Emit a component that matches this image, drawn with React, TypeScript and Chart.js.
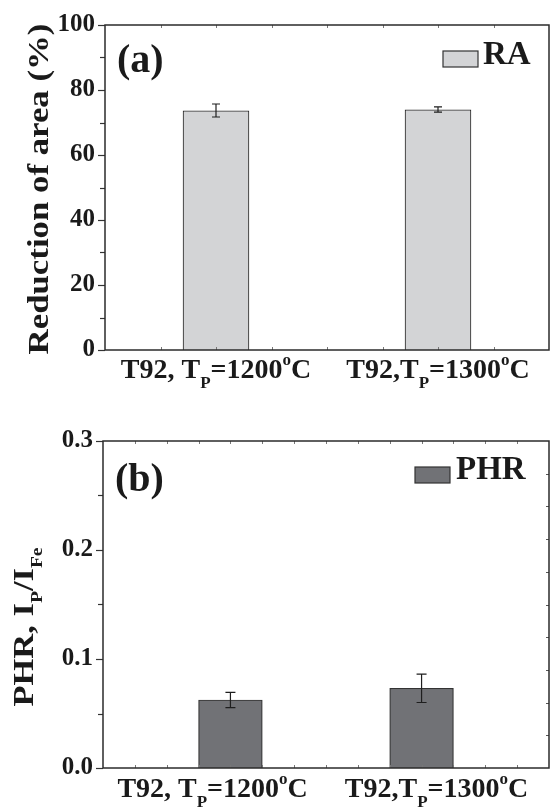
import React, { useEffect, useRef } from 'react';
import { Chart, registerables } from 'chart.js';

Chart.register(...registerables);

// ---- data ----
const alloyParts = ['T92, T', 'T92,T'];
const peakTemps = ['1200', '1300'];

const raX = [2, 6];
const raValues = [73.7, 74.0];
const raErrors = [2.0, 0.8];
const raLabelX = [2, 6];
const raTickValues = [0, 20, 40, 60, 80, 100];

const phrX = [4, 10];
const phrValues = [0.0624, 0.0731];
const phrErrors = [0.007, 0.013];
const phrLabelX = [3.44, 10.47];
const phrTickValues = [0.0, 0.1, 0.2, 0.3];

const FONT = "'Liberation Serif', 'Times New Roman', serif";

type Seg = { t: string; size: number; dy: number };

function drawRich(ctx: CanvasRenderingContext2D, segs: Seg[], x: number, y: number) {
  let total = 0;
  const widths: number[] = [];
  for (const s of segs) {
    ctx.font = `bold ${s.size}px ${FONT}`;
    const w = ctx.measureText(s.t).width;
    widths.push(w);
    total += w;
  }
  let cx = x - total / 2;
  ctx.textAlign = 'left';
  ctx.textBaseline = 'alphabetic';
  segs.forEach((s, i) => {
    ctx.font = `bold ${s.size}px ${FONT}`;
    ctx.fillText(s.t, cx, y + s.dy);
    cx += widths[i];
  });
}

function categorySegs(i: number): Seg[] {
  return [
    { t: alloyParts[i], size: 28, dy: 0 },
    { t: 'P', size: 17, dy: 10 },
    { t: '=' + peakTemps[i], size: 28, dy: 0 },
    { t: 'o', size: 17, dy: -13 },
    { t: 'C', size: 28, dy: 0 },
  ];
}

type PanelCfg = {
  key: string;
  h: number;
  padTop: number;
  axisW: number;
  plotBottom: number;
  xMax: number;
  xStep: number;
  xMinor: number;
  barPct: number;
  xs: number[];
  values: number[];
  errors: number[];
  labelX: number[];
  labelBaseline: number;
  yMax: number;
  yStep: number;
  yMinor: number;
  yTicks: number[];
  tickFmt: (v: number) => string;
  fill: string;
  cap: number;
  rightDivs: number;
  panelLabel: string;
  panelX: number;
  panelBaseline: number;
  legendText: string;
  legendBox: [number, number, number, number];
  legendTextX: number;
  legendBaseline: number;
  titleSegs: Seg[];
  titleBaseX: number;
  titleCenterY: number;
  titleStretch: number;
};

const raPanel: PanelCfg = {
  key: 'ra',
  h: 405,
  padTop: 22,
  axisW: 105,
  plotBottom: 350,
  xMax: 8,
  xStep: 4,
  xMinor: 1,
  barPct: 0.3,
  xs: raX,
  values: raValues,
  errors: raErrors,
  labelX: raLabelX,
  labelBaseline: 378,
  yMax: 100,
  yStep: 20,
  yMinor: 10,
  yTicks: raTickValues,
  tickFmt: (v) => String(Math.round(v)),
  fill: '#d3d4d6',
  cap: 4,
  rightDivs: 0,
  panelLabel: '(a)',
  panelX: 117,
  panelBaseline: 72,
  legendText: 'RA',
  legendBox: [443, 51, 35, 16],
  legendTextX: 483,
  legendBaseline: 64,
  titleSegs: [{ t: 'Reduction of area (%)', size: 30, dy: 0 }],
  titleBaseX: 48,
  titleCenterY: 189,
  titleStretch: 1.16,
};

const phrPanel: PanelCfg = {
  key: 'phr',
  h: 406,
  padTop: 36,
  axisW: 103,
  plotBottom: 363,
  xMax: 14,
  xStep: 2,
  xMinor: 1,
  barPct: 1.0,
  xs: phrX,
  values: phrValues,
  errors: phrErrors,
  labelX: phrLabelX,
  labelBaseline: 392,
  yMax: 0.3,
  yStep: 0.1,
  yMinor: 0.05,
  yTicks: phrTickValues,
  tickFmt: (v) => v.toFixed(1),
  fill: '#717276',
  cap: 5,
  rightDivs: 10,
  panelLabel: '(b)',
  panelX: 115,
  panelBaseline: 86,
  legendText: 'PHR',
  legendBox: [415, 62, 35, 16],
  legendTextX: 456,
  legendBaseline: 74,
  titleSegs: [
    { t: 'PHR, I', size: 30, dy: 0 },
    { t: 'P', size: 17, dy: 9 },
    { t: '/I', size: 30, dy: 0 },
    { t: 'Fe', size: 17, dy: 9 },
  ],
  titleBaseX: 33,
  titleCenterY: 222,
  titleStretch: 1.15,
};

function makePlugin(cfg: PanelCfg) {
  return {
    id: 'decor_' + cfg.key,
    afterDraw(chart: any) {
      const ctx: CanvasRenderingContext2D = chart.ctx;
      const { left, right, top, bottom } = chart.chartArea;
      const xs = chart.scales.x;
      const ys = chart.scales.y;
      ctx.save();

      // error bars
      const meta = chart.getDatasetMeta(0);
      ctx.strokeStyle = '#1e1e1e';
      ctx.lineWidth = 1.2;
      meta.data.forEach((el: any, i: number) => {
        const x = el.x;
        const yHi = ys.getPixelForValue(cfg.values[i] + cfg.errors[i]);
        const yLo = ys.getPixelForValue(cfg.values[i] - cfg.errors[i]);
        ctx.beginPath();
        ctx.moveTo(x, yHi);
        ctx.lineTo(x, yLo);
        ctx.moveTo(x - cfg.cap, yHi);
        ctx.lineTo(x + cfg.cap, yHi);
        ctx.moveTo(x - cfg.cap, yLo);
        ctx.lineTo(x + cfg.cap, yLo);
        ctx.stroke();
      });

      // inward x ticks (top and bottom)
      ctx.strokeStyle = '#777';
      ctx.lineWidth = 1;
      for (let v = cfg.xMinor; v < cfg.xMax - 1e-9; v += cfg.xMinor) {
        const px = Math.round(xs.getPixelForValue(v)) + 0.5;
        ctx.beginPath();
        ctx.moveTo(px, top);
        ctx.lineTo(px, top + 3);
        ctx.moveTo(px, bottom);
        ctx.lineTo(px, bottom - 3);
        ctx.stroke();
      }

      // outward y ticks
      ctx.strokeStyle = '#333';
      ctx.lineWidth = 1.2;
      const n = Math.round(cfg.yMax / cfg.yMinor);
      for (let k = 0; k <= n; k++) {
        const v = k * cfg.yMinor;
        const py = Math.round(ys.getPixelForValue(v)) + 0.5;
        const ratio = v / cfg.yStep;
        const major = Math.abs(ratio - Math.round(ratio)) < 1e-6;
        const len = major ? 7 : 5;
        ctx.beginPath();
        ctx.moveTo(left - len, py);
        ctx.lineTo(left, py);
        ctx.stroke();
      }

      // inward right ticks
      if (cfg.rightDivs) {
        ctx.strokeStyle = '#555';
        ctx.lineWidth = 1;
        for (let k = 1; k < cfg.rightDivs; k++) {
          const py = Math.round(top + ((bottom - top) * k) / cfg.rightDivs) + 0.5;
          ctx.beginPath();
          ctx.moveTo(right, py);
          ctx.lineTo(right - 3, py);
          ctx.stroke();
        }
      }

      // frame
      ctx.strokeStyle = '#2b2b2b';
      ctx.lineWidth = 1.5;
      ctx.strokeRect(left, top, right - left, bottom - top);

      ctx.fillStyle = '#1a1a1a';
      // category labels
      cfg.labelX.forEach((v, i) => {
        drawRich(ctx, categorySegs(i), xs.getPixelForValue(v), cfg.labelBaseline);
      });

      // panel label
      ctx.font = `bold 40px ${FONT}`;
      ctx.textAlign = 'left';
      ctx.textBaseline = 'alphabetic';
      ctx.fillText(cfg.panelLabel, cfg.panelX, cfg.panelBaseline);

      // legend
      const [bx, by, bw, bh] = cfg.legendBox;
      ctx.fillStyle = cfg.fill;
      ctx.fillRect(bx, by, bw, bh);
      ctx.strokeStyle = '#333';
      ctx.lineWidth = 1.2;
      ctx.strokeRect(bx, by, bw, bh);
      ctx.fillStyle = '#1a1a1a';
      ctx.font = `bold 33px ${FONT}`;
      ctx.fillText(cfg.legendText, cfg.legendTextX, cfg.legendBaseline);

      // y title (rotated)
      ctx.save();
      ctx.translate(cfg.titleBaseX, cfg.titleCenterY);
      ctx.rotate(-Math.PI / 2);
      ctx.scale(cfg.titleStretch, 1);
      drawRich(ctx, cfg.titleSegs, 0, 0);
      ctx.restore();

      ctx.restore();
    },
  };
}

function PanelChart({ cfg }: { cfg: PanelCfg }) {
  const ref = useRef<HTMLCanvasElement>(null);
  useEffect(() => {
    const chart = new Chart(ref.current as HTMLCanvasElement, {
      type: 'bar',
      data: {
        datasets: [
          {
            label: cfg.legendText,
            data: cfg.xs.map((x, i) => ({ x, y: cfg.values[i] })),
            backgroundColor: cfg.fill,
            borderColor: '#333',
            borderWidth: 1.2,
            barPercentage: cfg.barPct,
            categoryPercentage: 1,
          },
        ],
      },
      options: {
        responsive: false,
        animation: false,
        devicePixelRatio: 1,
        layout: { padding: { top: cfg.padTop, right: 1, left: 0, bottom: 0 } },
        plugins: { legend: { display: false }, tooltip: { enabled: false } },
        scales: {
          x: {
            type: 'linear',
            min: 0,
            max: cfg.xMax,
            offset: false,
            ticks: { display: false, stepSize: cfg.xStep },
            grid: { display: false, drawTicks: false },
            border: { display: false },
            afterFit: (s: any) => {
              s.height = cfg.h - cfg.plotBottom;
            },
          },
          y: {
            type: 'linear',
            min: 0,
            max: cfg.yMax,
            afterBuildTicks: (s: any) => {
              s.ticks = cfg.yTicks.map((v) => ({ value: v }));
            },
            ticks: {
              padding: 10,
              color: '#1a1a1a',
              font: { family: FONT, size: 25, weight: 'bold' },
              callback: (v: any) => cfg.tickFmt(Number(v)),
            },
            grid: { display: false, drawTicks: false },
            border: { display: false },
            afterFit: (s: any) => {
              s.width = cfg.axisW;
            },
          },
        },
      } as any,
      plugins: [makePlugin(cfg)],
    });
    return () => chart.destroy();
  }, [cfg]);
  return (
    <canvas
      ref={ref}
      width={550}
      height={cfg.h}
      style={{ display: 'block', width: 550, height: cfg.h }}
    />
  );
}

export default function App() {
  return (
    <div
      style={{
        position: 'fixed',
        left: 0,
        top: 0,
        width: 550,
        height: 811,
        background: '#ffffff',
        overflow: 'hidden',
      }}
    >
      <PanelChart cfg={raPanel} />
      <PanelChart cfg={phrPanel} />
    </div>
  );
}
